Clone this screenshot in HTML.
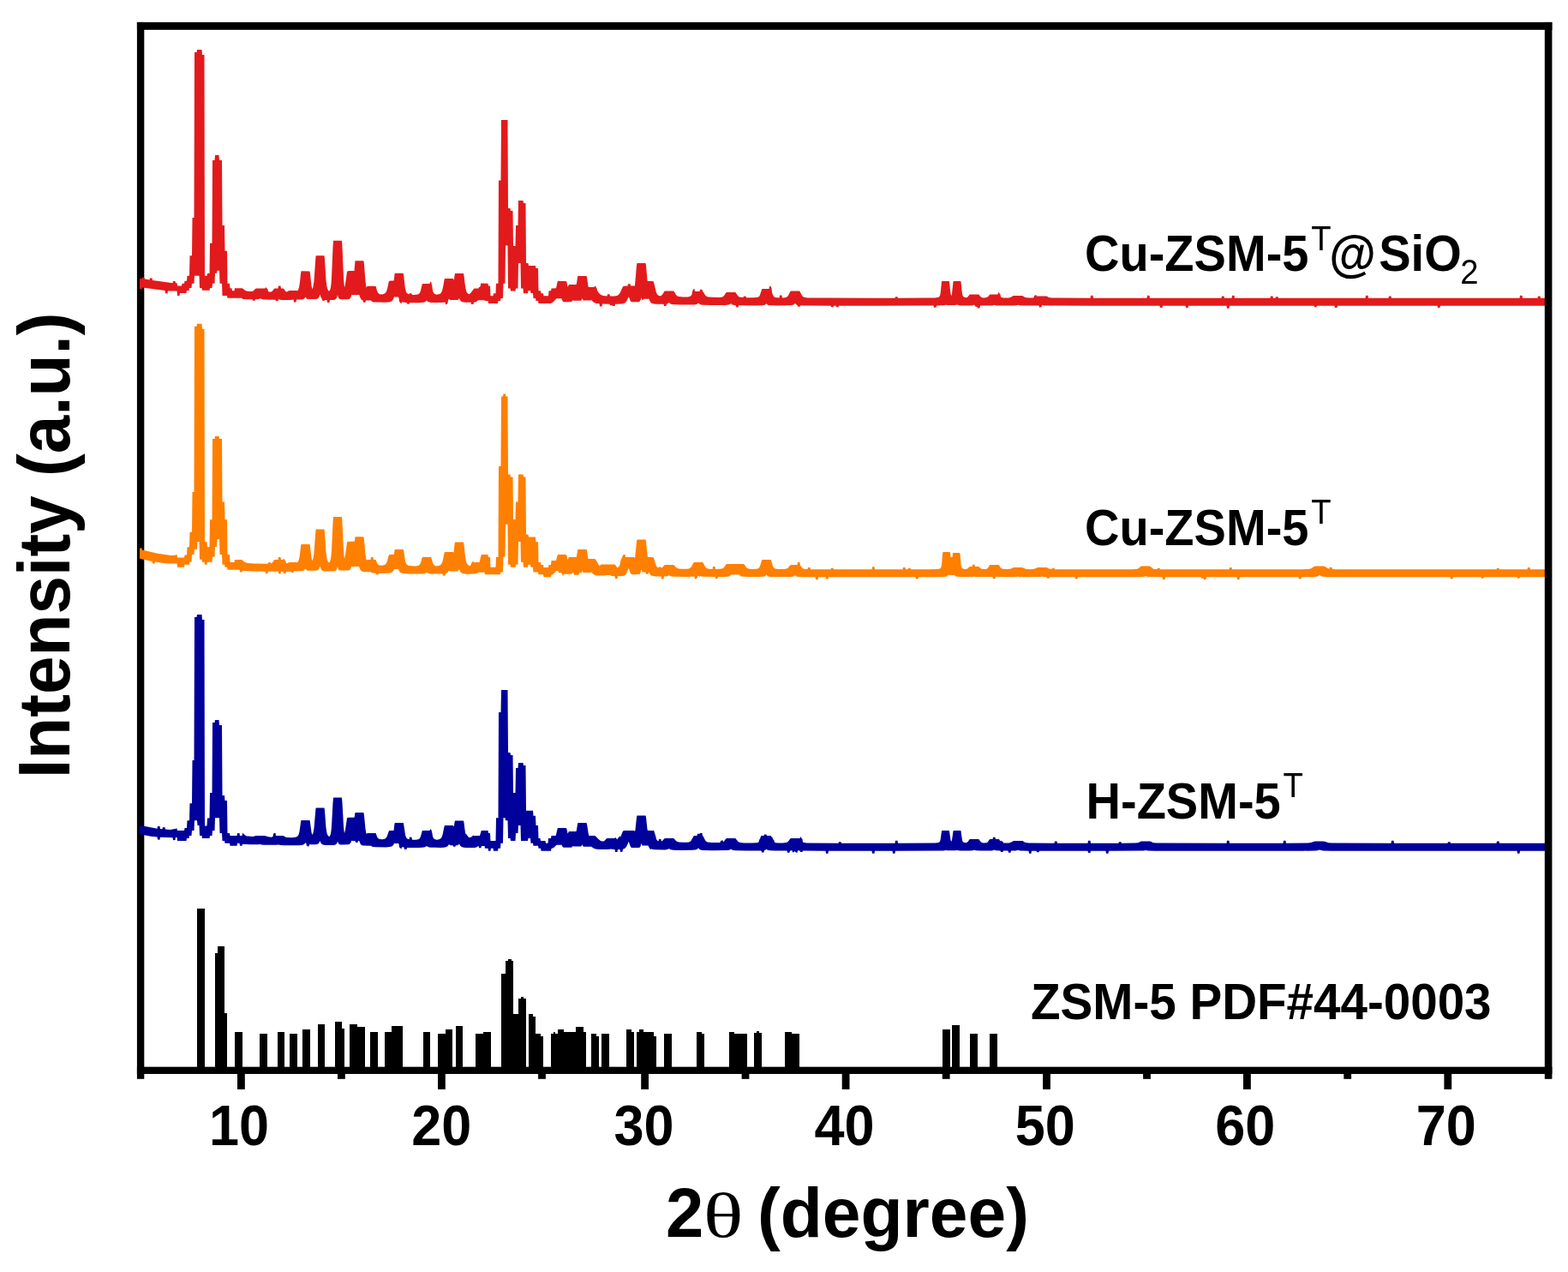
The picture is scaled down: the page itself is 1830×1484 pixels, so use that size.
<!DOCTYPE html>
<html lang="en"><head><meta charset="utf-8"><title>XRD patterns</title>
<style>
html,body{margin:0;padding:0;background:#fff;}
body{width:1830px;height:1484px;overflow:hidden;}
svg{display:block;}
text{font-family:"Liberation Sans","DejaVu Sans",sans-serif;fill:#000;}
.b{font-weight:bold;}
.tick{font-size:67px;font-weight:bold;text-anchor:middle;}
.lab{font-size:60px;font-weight:bold;}
.ttl{font-size:82px;font-weight:bold;}
.n{font-weight:normal;}
</style></head><body>
<svg width="1830" height="1484" viewBox="0 0 1830 1484">
<rect x="0" y="0" width="1830" height="1484" fill="#fff"/>

<g fill="#000"><rect x="159.90" y="25.90" width="8.40" height="1232.90"/><rect x="159.90" y="1244.65" width="1651.50" height="8.30"/></g>
<clipPath id="plotclip"><rect x="163" y="20" width="1644" height="1240"/></clipPath>
<g fill="#000" shape-rendering="crispEdges">
<rect x="230.0" y="1059.7" width="8.5" height="189.3"/>
<rect x="250.7" y="1112.0" width="5.8" height="137.0"/>
<rect x="253.5" y="1104.0" width="8.2" height="145.0"/>
<rect x="261.7" y="1182.0" width="3.3" height="67.0"/>
<rect x="274.0" y="1204.0" width="8.7" height="45.0"/>
<rect x="303.3" y="1206.0" width="8.2" height="43.0"/>
<rect x="324.0" y="1204.0" width="8.0" height="45.0"/>
<rect x="338.0" y="1206.0" width="8.5" height="43.0"/>
<rect x="353.0" y="1200.7" width="8.5" height="48.3"/>
<rect x="370.5" y="1195.0" width="8.5" height="54.0"/>
<rect x="391.0" y="1191.7" width="8.0" height="57.3"/>
<rect x="399.0" y="1200.0" width="3.3" height="49.0"/>
<rect x="408.3" y="1195.0" width="8.7" height="54.0"/>
<rect x="417.0" y="1198.0" width="9.0" height="51.0"/>
<rect x="432.0" y="1204.0" width="8.5" height="45.0"/>
<rect x="449.3" y="1204.0" width="7.7" height="45.0"/>
<rect x="457.0" y="1197.0" width="13.0" height="52.0"/>
<rect x="493.5" y="1204.0" width="8.5" height="45.0"/>
<rect x="511.0" y="1206.0" width="8.5" height="43.0"/>
<rect x="519.5" y="1200.7" width="8.8" height="48.3"/>
<rect x="532.0" y="1197.3" width="8.0" height="51.7"/>
<rect x="555.0" y="1206.0" width="8.5" height="43.0"/>
<rect x="563.5" y="1204.0" width="9.0" height="45.0"/>
<rect x="584.5" y="1136.0" width="5.6" height="113.0"/>
<rect x="590.1" y="1121.0" width="8.9" height="128.0"/>
<rect x="592.5" y="1119.0" width="4.0" height="130.0"/>
<rect x="599.0" y="1183.0" width="6.0" height="66.0"/>
<rect x="605.0" y="1165.2" width="8.6" height="83.8"/>
<rect x="607.5" y="1162.5" width="3.0" height="86.5"/>
<rect x="616.7" y="1183.0" width="5.6" height="66.0"/>
<rect x="622.3" y="1186.0" width="3.1" height="63.0"/>
<rect x="625.4" y="1206.0" width="5.8" height="43.0"/>
<rect x="631.2" y="1209.0" width="2.9" height="40.0"/>
<rect x="643.0" y="1206.0" width="8.4" height="43.0"/>
<rect x="645.5" y="1203.5" width="2.5" height="45.5"/>
<rect x="651.4" y="1200.5" width="6.2" height="48.5"/>
<rect x="657.6" y="1203.6" width="14.4" height="45.4"/>
<rect x="672.0" y="1197.8" width="9.0" height="51.2"/>
<rect x="681.0" y="1203.6" width="3.0" height="45.4"/>
<rect x="689.8" y="1206.0" width="6.2" height="43.0"/>
<rect x="696.0" y="1209.0" width="2.7" height="40.0"/>
<rect x="701.8" y="1206.0" width="8.7" height="43.0"/>
<rect x="730.9" y="1200.5" width="5.6" height="48.5"/>
<rect x="736.5" y="1203.6" width="3.1" height="45.4"/>
<rect x="742.7" y="1203.6" width="3.1" height="45.4"/>
<rect x="745.8" y="1200.5" width="5.2" height="48.5"/>
<rect x="751.0" y="1203.6" width="12.0" height="45.4"/>
<rect x="763.0" y="1209.0" width="3.0" height="40.0"/>
<rect x="774.9" y="1206.0" width="8.7" height="43.0"/>
<rect x="812.9" y="1203.6" width="5.6" height="45.4"/>
<rect x="818.5" y="1206.0" width="3.1" height="43.0"/>
<rect x="851.1" y="1203.6" width="5.9" height="45.4"/>
<rect x="857.0" y="1206.0" width="14.5" height="43.0"/>
<rect x="880.2" y="1205.0" width="8.9" height="44.0"/>
<rect x="883.0" y="1203.0" width="3.0" height="46.0"/>
<rect x="915.7" y="1204.0" width="8.7" height="45.0"/>
<rect x="924.4" y="1206.0" width="8.7" height="43.0"/>
<rect x="1100.0" y="1201.0" width="8.7" height="48.0"/>
<rect x="1111.4" y="1195.7" width="8.7" height="53.3"/>
<rect x="1132.1" y="1206.0" width="8.8" height="43.0"/>
<rect x="1155.4" y="1206.0" width="8.7" height="43.0"/>
</g>
<path clip-path="url(#plotclip)" d="M160.0,325.1 164.0,325.1 165.5,325.2 166.0,323.8 168.5,324.1 169.0,325.6 174.5,326.4 175.0,324.3 177.5,324.6 178.0,326.9 201.5,330.2 202.0,328.1 204.5,328.0 205.0,330.2 206.5,329.9 207.0,333.6 212.0,333.6 212.5,330.7 215.0,330.7 215.5,327.7 218.0,327.7 218.5,321.8 221.0,321.8 221.5,298.3 224.0,298.3 224.5,254.0 226.5,254.0 227.0,61.0 229.5,61.0 230.0,58.0 235.5,58.0 236.0,64.0 238.5,64.0 239.0,321.8 241.5,321.8 242.0,319.1 244.5,319.1 245.0,283.8 247.5,283.8 248.0,187.0 250.5,187.0 251.0,181.0 255.5,181.0 256.0,187.0 259.0,187.0 259.5,263.0 262.0,263.0 262.5,292.7 265.0,292.7 265.5,330.7 268.0,330.7 268.5,336.3 270.5,336.3 271.0,339.3 273.5,339.3 274.0,336.3 282.5,336.3 283.5,336.7 286.0,338.7 287.5,339.4 289.5,339.8 293.5,340.1 295.5,339.4 298.0,337.0 299.0,336.4 307.5,336.4 309.0,336.4 309.5,336.6 310.0,334.9 312.5,337.4 313.0,339.9 314.5,340.4 316.0,340.6 317.0,340.3 318.0,339.5 320.0,336.7 320.5,336.4 324.5,336.4 325.0,333.4 327.5,333.4 328.0,336.4 330.5,336.4 331.0,336.8 333.0,339.6 334.0,340.4 334.5,340.4 337.0,339.2 338.0,339.0 346.0,339.0 347.0,339.2 347.5,338.9 348.0,338.1 349.0,335.3 350.0,329.0 351.0,319.3 351.5,316.4 352.0,316.3 361.5,316.4 362.0,319.6 363.5,333.4 364.5,337.4 365.5,334.4 366.5,327.5 368.5,298.9 369.0,298.3 377.0,298.3 378.5,298.3 379.0,302.5 380.5,327.0 381.5,334.6 382.5,337.8 383.0,338.7 384.0,339.7 385.0,338.5 385.5,337.2 386.0,334.9 386.5,330.9 387.0,324.1 388.5,288.3 389.0,281.0 389.5,280.8 398.5,280.8 399.0,281.0 399.5,288.3 401.0,324.0 401.5,330.8 402.0,334.9 402.5,334.1 403.0,331.4 405.0,317.0 405.5,316.4 407.5,316.1 413.5,316.1 414.5,304.2 423.0,304.2 424.5,304.6 425.0,308.6 426.5,328.3 427.5,335.4 428.0,334.9 428.5,333.7 436.5,333.7 438.5,333.9 439.0,335.2 440.0,339.2 441.0,341.6 442.0,342.6 443.5,343.2 445.0,343.5 448.0,342.9 449.5,342.1 450.5,340.9 451.5,338.6 452.0,336.9 453.5,329.7 454.0,328.2 455.5,327.6 459.5,327.6 460.0,325.5 460.5,320.0 461.0,318.8 469.0,318.8 470.5,319.1 471.0,319.6 472.5,333.4 473.0,336.8 474.0,340.5 475.0,342.0 476.0,342.8 477.0,343.2 477.5,343.4 478.0,342.0 480.5,342.4 481.0,344.0 483.5,344.1 487.5,343.5 488.5,343.1 489.5,342.3 490.5,340.6 491.0,339.1 492.5,332.3 493.0,331.0 501.5,331.0 502.0,328.8 503.0,328.8 503.5,330.1 504.5,334.9 505.0,339.1 505.5,340.5 506.5,342.3 507.5,343.1 509.5,343.7 511.0,343.6 513.0,343.0 514.0,342.4 515.0,341.3 516.0,339.2 517.0,335.3 518.5,326.6 519.0,325.1 520.5,325.0 529.0,325.0 529.5,326.8 530.0,325.8 530.5,321.4 531.0,319.0 539.5,319.0 541.0,319.1 541.5,321.6 542.5,330.6 543.5,337.1 544.5,340.4 545.0,341.3 546.0,342.4 547.5,343.2 548.5,342.6 550.0,341.1 552.5,337.6 553.5,336.6 554.0,336.4 558.5,336.4 559.0,334.9 560.0,334.9 560.5,334.0 561.5,330.0 562.0,330.6 569.5,330.7 570.0,333.6 572.0,333.6 572.5,345.2 575.5,345.2 576.0,342.3 578.5,342.3 579.0,330.7 581.5,330.7 582.0,210.6 584.5,210.6 585.0,140.0 592.5,140.0 593.0,243.0 595.5,243.0 596.0,246.0 598.5,246.0 599.0,287.0 601.5,287.0 602.0,263.0 604.5,263.0 605.0,234.0 610.5,234.0 611.0,237.0 613.5,237.0 614.0,307.0 616.5,307.0 617.0,309.9 625.0,309.9 625.5,312.9 628.0,312.9 628.5,339.3 631.0,339.3 631.5,342.3 634.0,342.3 634.5,345.2 640.0,345.2 640.5,339.3 643.0,339.3 643.5,336.6 644.0,336.4 649.0,336.3 650.5,329.3 651.0,328.0 659.5,327.9 661.0,328.2 661.5,329.6 662.5,334.9 664.0,332.1 672.5,332.0 673.0,330.5 674.0,323.6 674.5,322.0 676.0,322.0 684.5,322.0 685.0,323.6 686.5,334.0 687.0,335.0 693.5,335.0 694.0,333.5 694.5,333.7 695.5,334.7 696.5,336.4 697.0,338.7 698.5,341.2 700.0,342.9 701.5,344.1 704.0,344.9 708.5,345.4 709.0,343.2 711.5,343.3 712.0,345.6 717.0,345.5 720.0,345.1 721.5,344.3 723.0,342.6 724.0,340.9 726.5,335.3 727.5,333.9 728.0,333.7 732.5,333.5 733.0,331.3 735.5,331.3 736.0,333.5 740.0,333.5 740.5,333.8 741.0,332.6 743.0,309.8 743.5,307.1 753.0,307.0 753.5,307.0 754.0,309.7 755.5,327.3 756.0,327.9 761.0,327.9 762.5,328.3 763.0,329.4 763.5,331.3 765.5,339.8 766.5,342.5 767.5,343.9 768.5,344.7 769.5,345.1 771.0,345.4 771.5,345.1 773.0,343.7 775.0,340.4 775.5,339.7 776.0,339.4 786.0,339.4 786.5,339.8 787.0,340.5 789.0,343.9 790.5,345.4 792.5,346.1 797.0,346.4 803.0,346.4 804.5,346.1 806.0,345.4 807.5,343.6 808.0,339.7 809.5,337.3 810.0,337.0 810.5,337.0 811.0,340.0 816.5,340.0 817.0,337.8 819.5,337.8 820.0,340.0 820.5,340.3 821.0,341.0 822.5,343.6 823.5,345.0 825.0,346.1 827.0,346.6 837.5,347.0 842.0,346.7 843.5,346.2 844.5,345.4 845.5,344.2 847.0,341.9 847.5,341.3 848.0,341.0 857.5,341.0 858.0,341.0 858.5,341.3 861.5,345.5 862.5,346.3 864.0,346.8 867.5,347.1 868.0,345.6 870.5,345.7 871.0,347.2 878.0,347.3 883.0,347.1 885.0,346.6 886.0,345.7 886.5,345.0 887.5,342.6 889.0,337.7 889.5,337.0 897.5,337.0 898.0,334.0 899.5,334.0 900.0,334.8 900.5,336.2 901.0,341.0 902.0,344.0 903.0,345.8 903.5,346.3 904.5,346.9 907.5,347.3 909.5,347.4 910.0,344.4 912.5,344.4 913.0,347.4 916.0,347.2 917.5,346.9 918.5,346.3 919.5,345.4 920.5,343.8 922.0,340.8 922.5,340.0 923.0,339.6 931.5,339.6 933.0,339.6 933.5,340.0 936.0,344.7 937.5,346.4 939.5,347.1 942.5,347.4 960.5,347.6 1044.5,347.7 1045.0,346.2 1047.5,346.2 1048.0,347.7 1080.5,347.6 1091.0,347.4 1094.0,347.1 1095.5,346.7 1096.5,345.8 1097.0,344.8 1097.5,342.7 1098.0,338.8 1099.0,328.6 1099.5,328.0 1107.5,328.0 1108.0,328.5 1109.0,338.8 1109.5,342.6 1110.0,344.7 1110.5,344.7 1111.0,342.6 1112.5,328.5 1113.0,328.0 1121.0,328.0 1121.5,328.6 1122.5,338.8 1123.0,342.6 1123.5,344.8 1124.0,345.8 1125.0,346.6 1127.5,347.2 1128.5,346.9 1129.5,346.2 1131.5,343.8 1132.0,343.5 1141.5,343.5 1142.0,343.5 1142.5,343.8 1144.5,346.2 1145.5,346.9 1147.5,347.4 1150.5,347.3 1151.5,347.1 1152.5,346.6 1153.5,345.7 1155.0,343.8 1155.5,343.5 1164.5,343.5 1165.0,341.3 1165.5,341.3 1166.0,341.6 1167.5,343.5 1168.0,346.2 1168.5,346.7 1169.5,347.1 1170.5,347.4 1174.5,347.5 1177.5,347.4 1179.0,347.1 1180.0,346.7 1182.5,345.1 1183.5,345.0 1193.0,345.0 1194.0,345.4 1196.5,346.9 1198.0,347.3 1202.0,347.6 1205.5,347.5 1206.5,347.3 1207.0,345.0 1209.5,343.9 1210.0,345.8 1211.0,345.5 1221.0,345.5 1222.0,345.8 1224.0,346.9 1225.5,347.3 1228.0,347.6 1233.5,347.6 1272.5,347.7 1273.0,344.7 1275.5,344.7 1276.0,347.7 1338.5,347.7 1339.0,344.7 1341.5,344.7 1342.0,347.7 1425.5,347.7 1426.0,345.5 1428.5,345.5 1429.0,347.7 1437.5,347.7 1438.0,344.7 1440.5,344.7 1441.0,347.7 1482.5,347.7 1483.0,345.5 1485.5,345.5 1486.0,347.7 1488.5,347.7 1489.0,346.2 1491.5,346.2 1492.0,347.7 1593.5,347.7 1594.0,344.7 1596.5,344.7 1597.0,347.7 1620.5,347.7 1621.0,345.5 1623.5,345.5 1624.0,347.7 1773.5,347.7 1774.0,344.7 1776.5,344.7 1777.0,347.7 1794.5,347.7 1795.0,345.5 1797.5,345.5 1798.0,347.7 1812.0,347.7 1812.0,356.7 1681.0,356.7 1680.5,358.9 1678.0,358.9 1677.5,356.7 1561.0,356.7 1560.5,358.9 1558.0,358.9 1557.5,356.7 1537.0,356.7 1536.5,358.2 1534.0,358.2 1533.5,356.7 1435.0,356.7 1434.5,359.7 1432.0,359.7 1431.5,356.7 1387.0,356.7 1386.5,358.9 1384.0,358.9 1383.5,356.7 1357.0,356.7 1356.5,358.9 1354.0,358.9 1353.5,356.7 1226.0,356.6 1219.0,356.5 1217.5,356.3 1216.0,355.9 1215.5,358.3 1213.0,358.7 1212.5,356.5 1192.5,356.5 1190.0,356.3 1188.0,355.7 1186.5,356.2 1184.0,356.5 1166.5,356.5 1162.5,356.4 1161.5,356.1 1160.5,355.7 1159.0,356.3 1157.0,356.5 1144.0,356.5 1143.5,359.5 1141.0,359.5 1140.5,357.9 1138.0,357.6 1137.5,355.9 1137.0,355.6 1135.5,356.2 1132.0,356.4 1121.0,356.4 1118.5,356.1 1117.0,355.6 1114.5,356.0 1106.0,356.0 1103.5,355.7 1102.5,356.0 1100.5,356.3 1093.0,356.6 1092.5,358.8 1090.0,358.8 1089.5,356.6 979.0,356.7 978.5,358.2 976.0,358.2 975.5,356.7 973.0,356.7 972.5,358.2 970.0,358.2 969.5,356.7 943.5,356.6 934.0,356.4 933.5,357.9 931.0,357.5 930.5,355.9 929.0,354.9 928.0,353.7 927.0,354.9 926.0,355.6 924.5,356.1 922.5,356.3 906.5,356.5 899.0,356.3 897.0,356.0 896.0,355.7 895.0,354.8 894.5,354.1 894.0,354.7 893.0,355.6 891.5,356.0 889.5,356.2 882.0,356.4 862.0,356.2 861.5,358.4 859.0,358.3 858.5,356.1 856.5,355.9 855.0,355.5 854.0,354.9 853.0,354.0 852.0,354.9 850.5,355.6 846.5,355.9 830.0,356.0 820.0,355.7 818.0,355.4 817.0,355.1 816.0,354.5 815.0,353.4 813.5,354.7 812.5,355.1 811.0,355.4 806.5,355.6 793.5,355.6 787.0,355.3 784.0,355.0 782.5,354.4 781.0,352.9 779.5,354.1 778.0,354.7 777.5,356.9 775.0,357.0 774.5,354.8 765.5,354.7 763.0,354.5 761.0,353.9 760.0,353.4 759.0,352.3 758.0,350.3 757.5,348.8 751.0,348.8 750.5,350.3 750.0,350.3 749.5,350.1 748.5,347.0 748.0,349.7 747.5,350.0 747.0,351.1 746.0,352.2 745.5,352.3 737.0,352.3 736.0,351.4 735.5,350.6 734.0,346.7 733.5,346.5 732.0,349.9 731.0,351.6 730.0,352.9 729.0,353.6 727.5,354.2 726.0,354.5 718.0,354.7 717.5,356.9 715.0,356.9 714.5,356.2 712.0,356.2 711.5,354.7 703.0,354.5 702.5,357.5 700.0,357.4 699.5,354.3 696.0,353.9 694.0,353.3 692.0,351.9 690.5,350.2 690.0,350.0 689.5,350.3 689.0,350.4 681.0,350.4 680.5,350.1 679.5,348.1 679.0,349.6 678.5,350.5 678.0,350.8 670.0,350.8 669.5,350.7 669.0,350.2 668.5,350.3 668.0,351.1 667.0,352.0 666.0,352.2 658.0,352.2 657.0,351.7 656.5,351.0 655.5,348.4 655.0,348.3 649.5,348.3 649.0,348.5 647.5,350.6 646.0,352.1 645.0,352.8 643.5,353.4 643.0,353.9 628.5,353.9 628.0,350.9 625.5,350.9 625.0,347.9 622.5,347.9 622.0,342.0 619.5,342.0 619.0,339.0 616.5,339.0 616.0,342.3 611.0,342.3 610.5,336.6 608.0,336.6 607.5,307.0 605.0,307.0 604.5,336.6 602.0,336.6 601.5,339.6 596.0,339.6 595.5,336.6 593.0,336.6 592.5,286.5 590.0,286.5 589.5,330.7 587.5,330.7 587.0,347.9 584.5,347.9 584.0,350.9 581.5,350.9 581.0,353.9 570.0,353.9 569.5,350.9 566.0,350.9 565.5,350.2 558.0,350.2 556.5,351.6 555.5,352.2 553.0,352.8 552.5,355.0 550.0,355.0 549.5,352.8 542.5,352.8 540.5,352.5 539.0,352.0 538.0,351.4 537.0,350.3 536.0,348.0 535.0,349.4 534.0,350.0 525.5,350.0 524.5,349.3 524.0,348.4 523.0,350.3 522.5,353.9 521.5,354.7 520.0,355.4 519.5,352.5 517.5,352.8 514.5,353.0 503.0,352.9 500.0,352.3 499.0,351.8 498.0,350.6 497.5,351.3 496.5,352.1 494.5,352.8 489.5,353.2 478.0,353.2 477.5,354.7 475.0,354.6 474.5,353.1 471.0,352.7 469.0,352.2 468.5,354.2 467.0,353.2 466.0,351.7 465.5,348.0 465.0,346.5 460.0,346.5 459.0,348.9 458.0,350.6 456.5,351.7 454.0,352.4 449.5,352.7 438.0,352.6 436.0,352.4 434.5,351.9 433.5,351.2 433.0,350.6 427.0,350.6 426.5,352.8 424.0,352.7 423.5,350.5 422.0,349.7 421.0,348.5 420.0,346.3 419.5,344.4 419.0,344.0 411.0,344.0 410.5,343.7 409.5,346.4 408.5,348.1 407.5,348.9 406.0,349.2 398.0,349.2 396.5,348.9 395.5,348.1 395.0,347.4 394.5,346.1 394.0,343.9 393.5,346.2 393.0,347.5 392.0,348.8 391.0,349.4 389.5,349.9 385.0,350.0 384.5,353.0 382.0,353.0 381.5,350.0 379.0,349.9 378.5,351.3 377.0,350.8 376.0,350.2 375.5,348.3 374.5,346.8 373.5,343.6 373.0,345.2 372.0,347.2 371.0,348.2 370.0,348.7 368.5,349.1 359.5,349.0 358.5,348.7 357.5,348.0 356.5,346.4 355.0,348.4 353.5,349.2 352.0,349.5 346.0,349.5 345.5,352.5 343.0,352.5 342.5,349.5 339.0,350.0 329.5,350.0 327.0,349.8 325.5,349.1 325.0,349.3 324.5,351.0 322.0,351.3 321.5,349.8 308.0,349.6 305.5,349.1 304.0,348.2 301.5,349.1 298.0,349.2 297.5,350.7 295.0,350.7 294.5,349.2 288.5,349.2 283.0,348.9 282.5,347.7 265.5,347.7 265.0,345.0 259.5,345.0 259.0,330.7 256.5,330.7 256.0,315.8 253.5,315.8 253.0,318.8 251.0,318.8 250.5,330.7 248.0,330.7 247.5,336.1 245.0,336.1 244.5,338.8 236.0,338.8 235.5,336.1 233.0,336.1 232.5,321.8 227.0,321.8 226.5,330.7 224.0,330.7 223.5,336.1 221.0,336.1 220.5,339.0 218.0,339.0 217.5,342.0 210.0,342.0 209.5,345.0 207.0,345.0 206.5,339.5 196.0,339.5 195.5,342.4 193.0,342.2 192.5,339.1 166.0,335.4 165.5,337.5 163.0,337.1 162.5,334.9 160.0,334.5Z" fill="#E31A1C"/>
<path clip-path="url(#plotclip)" d="M160.0,641.6 162.5,641.6 163.0,639.4 165.5,639.5 166.0,641.8 168.0,642.0 184.0,645.7 197.5,647.8 201.0,648.1 204.0,647.7 206.5,647.1 207.0,650.4 215.0,650.4 215.5,647.4 218.0,647.4 218.5,638.2 221.0,638.2 221.5,620.7 224.0,620.7 224.5,574.0 226.5,574.0 227.0,380.7 229.5,380.7 230.0,377.7 235.5,377.7 236.0,383.7 238.5,383.7 239.0,632.3 241.5,632.3 242.0,638.2 244.5,638.2 245.0,606.2 247.5,606.2 248.0,512.0 250.5,512.0 251.0,509.0 255.5,509.0 256.0,512.0 259.0,512.0 259.5,585.6 262.0,585.6 262.5,606.2 265.0,606.2 265.5,647.1 268.0,647.1 268.5,656.0 273.5,656.0 274.0,653.1 282.5,653.1 283.0,654.1 284.0,654.5 286.0,656.0 287.5,656.6 289.0,656.9 297.0,657.4 312.5,657.8 313.0,656.3 315.5,656.1 316.0,657.5 317.0,657.1 318.0,656.3 320.0,653.3 320.5,653.0 324.5,653.0 325.0,650.0 327.5,650.0 328.0,653.0 330.5,653.0 331.0,651.2 332.5,653.5 333.5,654.7 334.0,657.2 334.5,657.3 337.0,656.2 338.0,656.0 346.0,656.0 347.0,656.2 348.0,655.1 349.0,652.4 350.0,646.7 351.0,637.7 351.5,635.1 352.0,635.0 361.5,635.1 362.0,638.0 363.5,650.7 364.0,652.9 364.5,654.2 365.5,651.4 366.5,645.0 368.5,618.2 369.0,617.6 377.0,617.6 378.5,617.6 379.0,621.5 380.5,644.5 381.5,651.6 382.5,654.6 383.0,655.4 384.0,656.4 385.0,655.3 385.5,654.1 386.0,652.0 386.5,648.3 387.0,642.2 388.5,609.8 389.0,603.2 389.5,603.0 398.5,603.0 399.0,603.2 399.5,609.7 401.0,642.1 401.5,648.2 402.0,651.9 403.0,647.5 405.0,632.7 405.5,632.1 407.5,631.8 413.5,631.8 414.0,630.3 414.5,626.3 423.0,626.3 424.5,626.7 425.0,630.1 426.5,646.8 427.5,652.8 428.0,653.7 428.5,652.9 432.5,652.9 433.0,649.9 435.5,649.9 436.0,652.9 438.5,653.1 440.5,657.7 441.5,658.8 443.0,659.4 445.0,659.7 448.0,659.3 449.0,658.9 450.0,658.2 451.0,656.9 452.0,654.4 453.5,648.5 454.0,647.3 455.5,646.9 459.5,646.9 460.0,646.0 460.5,641.7 461.0,640.9 469.0,640.9 470.5,641.1 471.0,641.5 473.0,654.7 474.0,657.6 475.0,658.8 476.0,659.4 478.5,660.1 483.0,660.5 485.5,660.4 488.0,660.0 489.5,659.1 490.5,657.7 491.5,654.9 492.5,651.1 493.0,650.0 502.5,650.0 503.0,650.0 503.5,651.1 505.0,656.6 506.0,658.6 507.0,659.6 508.0,660.0 509.5,660.4 510.5,660.3 512.0,660.0 513.5,659.5 514.5,658.8 515.5,657.5 516.5,654.9 518.5,645.4 519.0,644.1 520.5,644.0 529.0,644.0 529.5,645.2 530.5,635.2 531.0,632.4 539.5,632.4 541.0,632.5 541.5,635.3 542.5,645.5 543.5,652.9 544.5,656.6 545.5,658.3 546.5,659.3 548.0,660.0 548.5,660.0 549.5,659.4 550.0,656.9 552.5,654.6 553.0,656.4 554.0,656.0 559.5,656.0 561.5,648.0 562.0,647.0 569.5,647.1 570.0,650.1 572.0,650.1 572.5,661.7 578.5,661.7 579.0,650.1 581.5,650.1 582.0,544.0 584.5,544.0 585.0,462.6 587.0,462.6 587.5,459.6 590.0,459.6 590.5,462.6 592.5,462.6 593.0,553.6 595.5,553.6 596.0,556.6 598.5,556.6 599.0,605.9 601.5,605.9 602.0,585.6 604.5,585.6 605.0,553.6 610.5,553.6 611.0,556.6 613.5,556.6 614.0,623.4 616.5,623.4 617.0,626.4 625.0,626.4 625.5,632.3 628.0,632.3 628.5,656.0 631.0,656.0 631.5,659.0 634.0,659.0 634.5,662.0 640.0,662.0 640.5,659.0 643.0,659.0 643.5,654.2 644.0,654.0 649.0,654.0 650.5,648.2 651.0,647.0 659.5,646.9 661.0,647.2 661.5,648.5 662.5,653.3 663.5,650.8 664.0,650.1 672.5,650.0 673.0,649.0 674.0,642.5 674.5,641.0 684.0,641.0 684.5,641.0 685.0,642.5 686.5,652.0 694.0,652.0 694.5,652.2 695.5,653.3 698.5,658.5 699.5,659.9 700.0,660.2 701.0,658.7 701.5,658.6 717.5,658.6 718.0,658.9 720.0,661.7 720.5,662.2 721.0,662.2 722.5,660.8 723.5,659.1 724.0,655.1 726.5,648.9 727.5,647.3 728.0,647.1 729.5,647.0 730.0,650.0 740.0,649.9 740.5,650.2 741.0,651.3 743.0,631.9 743.5,629.5 753.0,629.4 753.5,629.4 754.0,631.8 755.5,647.3 756.0,649.9 761.0,649.9 762.5,650.3 763.0,651.1 763.5,652.5 765.5,658.9 766.5,660.9 767.5,662.0 768.5,662.6 769.0,661.3 770.5,661.6 771.5,661.5 772.0,662.8 773.5,661.5 775.0,659.7 776.0,659.0 786.0,659.0 787.0,659.7 789.0,662.1 790.5,663.1 792.5,663.6 795.5,663.8 802.0,663.7 804.0,663.4 805.0,663.0 806.0,662.3 807.0,661.1 809.5,656.4 810.0,656.0 810.5,656.0 820.0,656.0 820.5,656.4 821.0,657.2 823.0,661.1 824.0,662.4 825.5,663.3 827.5,663.7 831.5,663.9 832.0,660.9 834.5,661.0 835.0,664.0 840.0,663.8 842.5,663.5 843.5,663.1 844.5,662.4 845.5,661.2 847.0,658.9 848.0,658.0 866.0,658.0 868.0,658.0 868.5,658.3 871.0,661.9 872.0,662.8 873.0,663.3 874.5,663.7 877.0,663.9 882.5,663.8 884.5,663.4 885.5,662.8 886.0,662.3 887.0,660.4 889.0,653.8 889.5,653.0 898.0,653.0 899.5,653.0 900.0,653.8 902.0,660.4 902.5,661.5 903.5,662.8 905.0,663.6 908.5,664.0 914.5,664.0 918.0,663.6 919.5,662.8 922.0,659.8 923.0,659.0 930.5,659.0 931.0,656.0 931.5,656.0 933.0,656.0 933.5,656.2 934.0,659.8 936.5,662.8 937.5,663.4 938.5,663.7 941.5,664.1 942.5,664.1 943.0,661.9 945.5,662.0 946.0,664.2 969.5,664.3 970.0,662.8 972.5,662.8 973.0,664.3 1017.5,664.3 1018.0,661.3 1020.5,661.3 1021.0,664.3 1053.5,664.3 1054.0,662.1 1056.5,662.1 1057.0,664.3 1059.5,664.3 1060.0,662.8 1062.5,662.8 1063.0,664.3 1085.5,664.2 1093.5,664.0 1095.5,663.8 1097.0,663.4 1098.0,662.6 1098.5,661.5 1099.0,659.1 1100.0,647.0 1100.5,644.0 1108.5,644.0 1109.0,645.0 1109.5,650.0 1111.5,650.0 1112.0,645.0 1120.0,645.0 1120.5,645.8 1121.5,658.3 1122.0,661.2 1122.5,662.4 1123.5,663.3 1125.0,663.7 1127.0,664.0 1129.0,663.4 1131.5,661.2 1132.0,661.0 1134.5,661.0 1135.0,658.8 1137.5,658.8 1138.0,661.0 1142.0,661.0 1142.5,661.2 1145.0,663.4 1146.0,663.8 1148.0,664.1 1150.5,663.9 1152.0,663.4 1153.0,662.5 1155.0,659.4 1155.5,659.0 1164.0,659.0 1165.5,659.0 1166.0,659.4 1168.0,662.5 1169.5,663.6 1171.5,664.0 1175.0,664.1 1179.0,663.8 1183.0,662.0 1193.0,662.0 1197.0,663.8 1199.0,664.1 1202.0,664.2 1205.0,664.1 1207.0,663.8 1211.0,662.0 1219.5,662.0 1221.5,662.1 1224.5,663.6 1227.0,664.1 1227.5,664.1 1228.0,662.7 1230.5,662.7 1231.0,664.2 1322.0,664.2 1325.5,664.0 1327.5,663.7 1329.0,662.9 1331.0,661.0 1332.0,660.5 1341.5,660.5 1342.5,660.7 1345.0,662.9 1346.0,663.5 1347.5,663.9 1350.5,664.1 1351.0,662.7 1353.5,662.7 1354.0,664.2 1434.5,664.3 1435.0,662.1 1437.5,662.1 1438.0,664.3 1519.0,664.2 1525.5,664.1 1528.5,663.7 1530.5,663.0 1534.0,660.8 1535.0,660.5 1544.5,660.5 1546.0,660.8 1549.0,662.8 1551.0,663.6 1551.5,663.7 1552.0,661.6 1554.5,661.9 1555.0,664.1 1559.0,664.2 1746.5,664.3 1747.0,662.8 1749.5,662.8 1750.0,664.3 1782.5,664.3 1783.0,662.1 1785.5,662.1 1786.0,664.3 1812.0,664.3 1812.0,673.3 1774.0,673.3 1773.5,674.8 1772.0,674.8 1771.0,674.8 1770.5,673.3 1732.0,673.3 1731.5,674.8 1729.0,674.8 1728.5,673.3 1696.0,673.3 1695.5,675.5 1693.0,675.5 1692.5,673.3 1551.0,673.2 1544.0,672.8 1542.0,672.3 1540.0,671.1 1537.5,672.4 1535.0,673.0 1530.0,673.2 1519.0,673.3 1518.5,675.5 1516.0,675.5 1515.5,673.3 1447.0,673.3 1446.5,676.3 1444.0,676.3 1443.5,673.3 1408.0,673.3 1407.5,676.3 1405.0,676.3 1404.5,674.8 1402.0,674.8 1401.5,673.3 1360.0,673.3 1359.5,676.3 1357.0,676.3 1356.5,673.3 1341.0,673.1 1338.5,672.7 1337.0,671.9 1336.0,672.5 1334.5,672.9 1329.5,673.2 1258.0,673.3 1257.5,675.5 1255.0,675.5 1254.5,673.3 1225.0,673.2 1224.5,674.7 1223.0,674.7 1222.0,674.7 1221.5,673.2 1218.0,673.0 1216.0,672.4 1214.5,672.9 1212.5,673.1 1198.0,673.2 1191.0,673.1 1189.5,672.9 1188.0,672.4 1186.0,673.0 1182.0,673.2 1167.0,673.1 1162.0,672.8 1161.5,675.6 1160.5,675.0 1159.0,675.8 1158.5,672.9 1154.0,673.1 1141.5,673.1 1138.5,672.9 1137.0,672.4 1135.5,672.9 1133.5,673.0 1120.0,673.0 1117.5,672.8 1116.0,672.5 1115.0,672.0 1114.0,671.0 1106.5,670.8 1106.0,671.6 1105.0,672.4 1103.5,672.8 1101.5,673.0 1093.5,673.2 1072.0,673.3 1071.5,675.5 1069.0,675.5 1068.5,673.3 967.0,673.3 966.5,675.5 964.0,675.5 963.5,673.3 955.0,673.3 954.5,676.3 952.0,676.3 951.5,673.3 938.0,673.2 932.0,673.0 929.5,672.4 928.0,671.3 927.0,672.1 926.0,672.6 923.5,673.0 903.0,673.1 899.0,672.9 897.0,672.6 895.5,671.8 894.5,670.5 894.0,671.3 893.0,672.2 892.0,672.5 890.5,672.8 885.5,673.0 873.0,673.0 868.0,672.8 865.5,672.5 864.0,671.8 862.5,670.5 853.5,670.5 851.5,672.1 849.5,672.7 845.5,672.9 838.0,673.0 837.5,675.2 835.0,675.2 834.5,673.0 821.5,672.8 818.5,672.5 817.0,672.1 816.5,673.3 815.0,671.6 814.0,672.8 813.5,674.7 812.5,675.2 811.0,675.6 810.5,672.6 803.0,672.9 786.0,672.7 783.0,672.3 782.0,671.9 781.0,671.1 779.5,672.0 778.5,672.3 775.0,672.4 774.5,675.4 772.0,675.4 771.5,672.4 765.0,672.4 761.0,671.8 760.0,671.4 759.0,670.6 757.5,667.9 757.0,667.5 756.5,669.7 754.0,669.7 753.5,667.5 750.0,667.5 749.5,667.2 748.5,664.3 747.5,668.2 747.0,669.2 746.0,670.1 737.5,670.2 737.0,670.0 736.0,669.0 735.5,668.1 734.0,663.6 733.5,663.3 731.5,668.1 730.5,669.8 729.5,670.9 728.5,671.5 727.0,672.0 721.0,672.2 720.5,675.2 718.0,675.2 717.5,672.2 714.0,672.0 712.0,671.0 707.0,671.0 706.0,671.4 705.0,671.5 696.0,671.4 694.5,671.0 693.0,670.3 691.5,668.9 690.5,667.5 690.0,667.5 689.5,667.9 689.0,668.0 681.0,668.0 680.5,667.8 679.5,666.1 679.0,667.4 678.5,668.2 678.0,668.6 676.0,668.6 675.5,670.8 670.0,670.8 669.5,668.4 669.0,667.9 668.5,668.0 667.5,669.3 666.5,669.8 658.0,669.8 657.5,671.9 656.5,671.0 655.5,668.6 655.0,668.2 652.0,668.2 651.5,666.0 649.0,666.0 647.5,668.0 646.0,669.5 645.0,670.2 643.5,670.8 643.0,673.3 634.5,673.3 634.0,670.3 628.5,670.3 628.0,667.4 622.5,667.4 622.0,661.7 619.5,661.7 619.0,658.7 616.5,658.7 616.0,661.7 611.0,661.7 610.5,655.8 608.0,655.8 607.5,632.0 605.0,632.0 604.5,658.7 602.0,658.7 601.5,661.7 596.0,661.7 595.5,658.7 593.0,658.7 592.5,611.8 590.0,611.8 589.5,649.6 587.5,649.6 587.0,667.4 584.5,667.4 584.0,670.3 566.0,670.3 565.5,667.7 558.5,667.7 556.5,669.0 554.0,669.6 544.5,669.7 542.5,669.5 540.0,669.0 538.0,667.9 537.0,666.6 536.0,664.1 534.5,666.3 533.5,666.6 525.5,666.6 524.5,666.1 524.0,665.5 523.5,666.5 522.5,667.8 521.5,668.5 520.0,669.0 519.5,671.4 517.0,671.7 516.5,669.5 505.5,669.6 502.5,669.5 499.5,668.8 498.5,668.2 498.0,667.6 497.0,668.5 496.0,669.0 492.5,669.5 478.0,669.6 470.5,669.1 468.5,668.6 467.0,667.8 466.0,666.6 465.0,664.1 460.0,664.1 459.0,665.9 458.0,667.2 457.0,667.9 455.5,668.4 451.5,668.8 442.0,668.9 441.5,670.4 439.0,670.3 438.5,668.8 435.0,668.4 434.0,668.1 432.5,667.2 424.5,667.2 422.5,666.6 421.5,665.9 420.5,664.6 419.0,660.9 411.0,660.9 410.5,660.3 409.5,662.7 408.5,664.4 407.5,665.2 406.0,665.6 397.5,665.6 396.5,665.4 395.5,664.7 395.0,664.1 394.5,662.9 394.0,661.0 393.5,663.1 393.0,664.3 392.0,665.5 390.5,666.2 388.5,666.5 380.0,666.5 378.5,666.4 376.5,665.7 375.0,664.4 374.0,662.4 373.5,660.6 373.0,662.1 372.0,664.0 371.0,664.9 369.5,665.6 368.5,665.8 359.5,665.7 358.5,665.5 357.5,664.8 356.5,663.4 355.0,665.2 353.5,666.0 351.5,666.3 343.0,666.3 342.5,667.8 340.5,668.2 340.0,668.3 339.5,666.8 334.0,666.9 333.5,669.1 331.0,669.1 330.5,666.9 328.0,666.8 327.5,669.7 326.5,669.5 325.5,668.9 325.0,669.1 324.5,666.4 321.5,666.8 313.0,666.8 312.5,669.0 310.0,669.0 309.5,666.8 294.0,666.6 283.0,666.1 282.5,667.6 280.0,667.6 279.5,664.7 265.5,664.7 265.0,661.7 262.5,661.7 262.0,658.7 259.5,658.7 259.0,646.9 256.5,646.9 256.0,629.1 253.5,629.1 253.0,638.0 251.0,638.0 250.5,649.8 248.0,649.8 247.5,655.8 242.0,655.8 241.5,658.7 239.0,658.7 238.5,655.8 236.0,655.8 235.5,652.8 233.0,652.8 232.5,632.0 230.5,632.0 230.0,640.9 227.0,640.9 226.5,646.9 224.0,646.9 223.5,655.8 221.5,655.8 221.0,658.7 215.5,658.7 215.0,661.7 207.0,661.7 206.5,657.4 196.0,657.5 189.5,656.8 181.0,655.5 180.5,657.7 178.0,657.2 177.5,655.0 160.0,651.0Z" fill="#FF7F00"/>
<path clip-path="url(#plotclip)" d="M160.0,963.6 168.0,963.8 183.5,966.7 184.0,963.8 186.5,964.0 187.0,967.1 189.5,967.3 190.0,965.1 192.5,965.3 193.0,967.6 198.5,967.9 203.0,967.3 206.5,966.5 207.0,969.0 215.0,969.0 215.5,966.1 218.0,966.1 218.5,957.2 221.0,957.2 221.5,937.2 224.0,937.2 224.5,887.0 226.5,887.0 227.0,720.0 229.5,720.0 230.0,717.0 235.5,717.0 236.0,723.0 238.5,723.0 239.0,963.4 241.5,963.4 242.0,954.5 244.5,954.5 245.0,925.1 247.5,925.1 248.0,843.0 250.5,843.0 251.0,840.0 255.5,840.0 256.0,846.0 259.0,846.0 259.5,928.0 262.0,928.0 262.5,934.0 265.0,934.0 265.5,972.0 268.0,972.0 268.5,975.0 276.5,975.0 277.0,972.0 279.5,972.0 280.0,975.0 282.5,975.0 283.0,972.1 284.0,972.6 286.5,974.7 288.0,975.4 289.5,975.6 295.0,976.0 299.0,975.0 309.0,975.0 313.0,976.3 316.5,976.7 317.5,976.5 318.5,976.0 319.0,972.7 320.0,972.1 321.5,972.0 322.0,975.0 330.5,975.0 333.5,976.7 335.5,977.0 340.0,977.2 344.5,976.8 346.0,976.4 347.0,975.8 348.0,974.8 348.5,973.8 349.5,970.3 351.0,959.4 351.5,957.1 353.0,957.0 361.5,957.1 362.0,959.7 363.5,970.9 364.5,974.1 365.5,971.7 366.5,966.1 368.5,942.9 369.0,942.4 377.0,942.4 378.5,942.4 379.0,945.8 380.5,965.7 381.5,971.9 382.5,974.5 384.0,976.0 384.5,975.8 385.0,975.2 385.5,974.2 386.0,972.4 386.5,969.3 387.0,964.0 388.5,936.4 389.0,930.8 389.5,930.6 398.5,930.6 399.0,930.8 399.5,936.4 401.0,964.0 401.5,969.2 402.0,972.3 403.0,968.1 405.0,954.6 405.5,954.1 407.5,953.8 413.5,953.8 414.0,951.6 414.5,947.9 423.0,947.9 424.5,948.3 425.0,951.4 426.5,967.1 427.5,972.7 428.0,972.8 428.5,971.9 436.5,971.9 438.5,972.1 439.0,973.1 440.0,976.0 441.0,977.8 442.0,978.6 443.5,979.0 446.0,979.3 448.0,978.9 449.5,978.4 450.5,977.6 451.5,976.2 454.0,969.3 455.5,968.9 459.5,968.9 460.5,960.8 461.0,959.9 469.0,959.9 470.5,960.1 471.0,960.4 473.0,974.1 474.0,977.0 475.0,978.2 476.0,978.8 477.5,979.3 478.0,976.4 480.5,976.7 481.0,979.8 485.0,979.8 487.0,979.6 488.5,979.1 489.5,978.4 490.5,977.0 491.5,974.1 492.5,970.1 493.0,969.0 501.5,969.0 502.0,967.5 502.5,967.5 503.0,967.5 503.5,968.6 504.5,972.6 505.0,975.8 506.0,977.9 507.0,978.8 508.5,979.5 510.0,979.7 511.5,979.5 513.0,979.0 514.0,978.5 515.0,977.5 515.5,976.7 516.5,974.1 518.5,964.4 519.0,963.1 529.0,963.0 529.5,964.6 530.0,963.5 530.5,959.6 531.0,957.4 539.5,957.4 541.0,957.5 541.5,959.8 542.5,967.9 543.5,973.8 544.0,972.5 545.0,974.6 546.5,975.9 547.0,976.9 548.0,977.2 549.5,976.4 550.0,976.7 552.5,974.3 553.0,975.4 554.0,975.0 559.5,975.0 560.0,974.9 561.5,969.8 562.0,969.0 569.5,969.0 570.0,972.0 572.0,972.0 572.5,980.9 578.5,980.9 579.0,954.2 581.5,954.2 582.0,831.0 584.5,831.0 585.0,805.0 592.5,805.0 593.0,878.0 595.5,878.0 596.0,881.0 598.5,881.0 599.0,925.1 601.5,925.1 602.0,896.0 604.5,896.0 605.0,890.0 610.5,890.0 611.0,893.0 613.5,893.0 614.0,945.8 622.0,945.8 622.5,951.8 625.0,951.8 625.5,963.1 628.0,963.1 628.5,977.9 630.5,977.9 631.0,980.9 636.5,980.9 637.0,983.8 639.5,983.8 640.0,977.9 643.0,977.9 643.5,975.1 644.0,975.0 648.5,975.0 649.0,973.8 650.5,967.3 651.0,966.0 659.5,966.0 661.0,966.2 661.5,967.5 662.5,972.2 663.0,971.9 663.5,970.8 664.0,970.1 672.5,970.0 673.0,968.0 674.0,961.5 674.5,960.0 675.0,960.0 684.5,960.0 685.0,961.5 687.0,974.1 687.5,975.0 694.0,975.0 694.5,975.1 695.5,975.9 699.0,979.6 701.0,980.9 703.0,981.5 704.5,981.6 706.0,980.6 708.0,978.2 708.5,978.0 717.5,978.0 718.0,976.7 720.5,979.6 721.0,978.0 722.5,976.5 723.5,974.9 724.0,976.9 726.5,970.8 727.5,969.3 728.0,969.1 732.0,968.9 740.0,968.9 740.5,969.3 741.0,970.3 741.5,967.8 743.0,953.6 743.5,951.5 745.0,951.4 753.5,951.4 754.0,953.6 755.5,967.6 756.0,968.9 761.0,968.9 762.5,969.3 763.0,968.6 765.5,976.4 766.0,979.0 767.0,980.5 768.0,981.3 768.5,981.5 769.0,978.7 771.0,979.1 771.5,978.9 772.0,981.7 773.5,980.5 775.0,978.7 776.0,978.0 786.0,978.0 787.0,978.7 789.0,981.1 790.5,982.1 792.5,982.6 796.0,982.8 802.0,982.7 804.0,982.5 805.0,982.1 806.0,981.4 807.0,980.1 809.5,975.4 810.0,975.0 813.5,975.0 814.0,972.8 816.5,972.8 817.0,972.0 818.5,972.0 819.5,972.0 820.0,975.0 820.5,975.4 821.0,976.2 823.0,980.2 824.0,981.5 825.0,982.2 826.0,982.6 830.5,983.0 840.5,983.1 841.0,980.9 843.5,980.3 844.0,982.3 845.0,981.4 847.0,978.8 848.0,978.0 856.5,978.0 858.0,978.0 858.5,978.3 861.5,982.0 862.5,982.6 864.0,983.1 868.0,983.4 877.0,983.5 883.5,983.2 885.5,982.6 886.0,980.0 887.0,978.5 888.5,974.6 889.0,975.6 889.5,975.0 891.5,975.0 892.0,973.5 894.5,973.5 895.0,975.0 899.5,975.0 900.0,975.6 900.5,976.8 901.0,976.0 902.0,978.5 902.5,979.4 903.5,980.4 904.0,982.8 905.5,983.2 908.0,983.4 913.5,983.5 917.5,983.1 918.5,982.7 919.5,982.1 920.5,981.0 922.0,978.8 923.0,978.0 933.0,978.0 933.5,978.3 934.0,975.8 935.5,978.0 936.5,979.1 937.0,982.5 938.5,983.1 941.5,983.5 978.5,983.7 979.0,982.2 981.5,982.2 982.0,983.7 1044.5,983.7 1045.0,980.7 1047.5,980.7 1048.0,983.7 1091.0,983.5 1094.0,983.3 1095.5,982.9 1096.5,982.3 1097.0,981.5 1097.5,979.9 1098.0,977.1 1099.0,969.4 1099.5,969.0 1107.5,969.0 1108.0,969.4 1109.0,977.0 1109.5,979.9 1110.0,981.5 1110.5,981.5 1111.0,979.9 1112.5,969.4 1113.0,969.0 1121.0,969.0 1121.5,969.4 1122.5,977.0 1123.0,979.9 1123.5,981.5 1124.0,982.3 1124.5,982.7 1125.5,983.0 1127.0,983.3 1128.0,983.0 1129.0,982.5 1130.0,981.4 1131.5,979.3 1132.0,979.0 1132.5,979.0 1142.0,979.0 1142.5,979.3 1144.5,982.1 1145.5,982.8 1146.5,983.2 1148.0,983.4 1151.0,983.2 1152.0,982.9 1153.0,982.1 1155.0,979.3 1155.5,979.0 1158.5,979.0 1159.0,976.8 1161.5,976.8 1162.0,979.0 1165.5,979.0 1166.0,979.3 1167.5,981.5 1168.0,980.6 1169.0,981.4 1170.5,981.8 1171.0,983.4 1174.5,983.5 1177.5,983.4 1179.0,983.1 1180.5,982.4 1182.0,981.4 1183.0,981.0 1192.5,981.0 1193.5,981.1 1196.0,982.7 1197.0,983.1 1200.5,983.5 1230.5,983.7 1231.0,981.5 1233.5,981.5 1234.0,983.7 1269.5,983.7 1270.0,980.7 1272.5,980.7 1273.0,983.7 1305.5,983.7 1306.0,982.2 1308.5,982.2 1309.0,983.7 1324.5,983.6 1328.0,983.2 1332.0,981.5 1341.5,981.5 1342.5,981.6 1346.0,983.2 1350.0,983.6 1431.5,983.7 1432.0,980.7 1434.5,980.7 1435.0,983.7 1497.5,983.7 1498.0,980.7 1500.5,980.7 1501.0,983.7 1526.5,983.5 1530.0,983.1 1534.5,981.6 1544.5,981.5 1546.0,981.7 1550.5,983.2 1554.5,983.6 1623.5,983.7 1624.0,980.7 1626.5,980.7 1627.0,983.7 1689.5,983.7 1690.0,982.2 1692.5,982.2 1693.0,983.7 1746.5,983.7 1747.0,981.5 1749.5,981.5 1750.0,983.7 1812.0,983.7 1812.0,992.7 1774.0,992.7 1773.5,995.7 1771.0,995.7 1770.5,992.7 1553.5,992.7 1544.0,992.4 1542.0,992.1 1540.0,991.4 1537.5,992.2 1535.0,992.5 1520.5,992.7 1348.5,992.7 1340.0,992.5 1338.5,992.3 1337.0,991.9 1335.0,992.4 1331.5,992.6 1294.0,992.7 1293.5,995.7 1291.0,995.7 1290.5,992.7 1273.0,992.7 1272.5,994.9 1270.0,994.9 1269.5,992.7 1213.0,992.7 1212.5,994.2 1210.0,994.2 1209.5,992.7 1204.0,992.7 1203.5,995.7 1201.0,995.7 1200.5,992.7 1191.0,992.5 1189.5,992.2 1188.0,991.7 1185.5,992.4 1180.0,992.6 1179.5,994.8 1177.0,994.8 1176.5,992.6 1171.0,992.6 1170.5,994.1 1168.0,994.1 1167.5,992.6 1162.5,992.3 1161.5,992.1 1160.5,991.5 1159.5,992.1 1157.5,992.4 1144.5,992.5 1139.0,992.3 1138.0,992.1 1137.0,991.5 1135.5,992.2 1132.0,992.4 1121.0,992.4 1118.5,992.2 1117.0,991.9 1114.5,992.2 1106.0,992.2 1103.5,991.9 1101.0,992.4 1095.0,992.6 1045.0,992.7 1044.5,995.7 1042.0,995.7 1041.5,992.7 1021.0,992.7 1020.5,995.7 1018.0,995.7 1017.5,992.7 967.0,992.7 966.5,995.7 964.0,995.7 963.5,992.7 937.0,992.6 936.5,994.0 934.0,994.0 933.5,992.5 931.0,992.2 930.5,995.1 929.0,994.5 927.5,993.3 926.5,993.9 925.0,994.4 924.5,992.3 922.0,992.4 921.5,994.7 919.0,994.7 918.5,992.5 904.5,992.5 898.5,992.3 896.0,991.8 895.0,991.2 894.5,990.6 893.5,991.6 892.0,992.1 891.5,994.4 889.0,994.6 888.5,992.4 871.5,992.5 858.5,992.3 855.0,991.8 854.0,991.3 853.0,990.5 852.0,991.3 851.0,991.7 848.0,992.1 831.0,992.2 820.5,991.9 818.5,991.7 817.0,991.2 816.0,990.5 815.0,989.2 814.0,990.4 812.5,991.3 811.0,991.6 808.5,991.8 794.0,991.9 786.0,991.7 783.0,991.3 782.0,990.9 781.0,990.1 779.0,991.1 776.0,991.4 765.0,991.3 762.0,990.9 760.0,990.3 759.5,991.4 758.5,990.3 757.5,988.4 757.0,988.1 756.5,986.6 750.0,986.6 749.5,986.4 748.5,983.8 747.5,987.4 747.0,988.3 746.0,989.0 737.5,989.1 737.0,988.9 736.0,987.9 735.5,987.0 734.0,982.6 733.5,982.2 732.0,985.9 731.0,987.8 730.0,989.1 729.0,990.0 727.0,990.7 726.5,993.8 726.0,993.8 724.0,993.9 723.5,990.9 721.0,990.9 720.5,993.9 718.0,993.9 717.5,990.9 714.5,990.8 713.0,990.4 711.5,990.8 709.5,990.9 699.5,990.9 695.0,990.5 692.5,989.6 690.0,987.7 689.5,987.8 681.0,987.7 680.5,987.3 680.0,986.5 679.5,985.1 679.0,986.4 678.5,987.3 678.0,987.6 670.0,987.6 669.5,987.5 669.0,987.1 668.5,987.2 667.5,988.4 666.5,988.8 658.0,988.8 657.0,988.3 656.5,987.7 655.5,985.8 649.5,985.8 646.5,988.7 645.0,989.5 643.5,989.9 643.0,992.7 631.5,992.7 631.0,989.8 628.5,989.8 628.0,986.8 622.5,986.8 622.0,983.8 619.5,983.8 619.0,977.9 616.5,977.9 616.0,980.9 608.0,980.9 607.5,963.1 605.0,963.1 604.5,972.0 602.0,972.0 601.5,980.9 596.0,980.9 595.5,977.9 593.0,977.9 592.5,957.2 590.0,957.2 589.5,954.2 587.5,954.2 587.0,983.8 584.5,983.8 584.0,989.8 581.5,989.8 581.0,992.7 576.0,992.7 575.5,989.8 573.0,989.8 572.5,992.7 570.0,992.7 569.5,989.8 566.0,989.8 565.5,987.1 562.0,987.1 561.5,989.3 559.0,989.3 558.5,987.1 558.0,987.2 556.0,988.4 554.0,988.9 544.0,989.0 541.0,988.7 539.5,988.3 538.0,987.6 537.0,986.6 536.0,984.5 534.5,986.1 534.0,986.3 532.0,986.3 531.5,987.8 529.0,987.8 528.5,986.3 525.5,986.3 524.5,985.6 524.0,984.9 523.0,986.5 522.0,987.5 520.5,988.2 518.0,988.7 514.0,988.9 502.5,988.8 501.0,988.6 499.5,988.1 498.5,987.4 498.0,986.9 497.0,987.8 496.0,988.3 493.0,988.8 488.5,989.0 475.0,988.9 474.5,991.1 473.0,991.0 472.0,990.9 471.5,988.6 469.0,988.2 468.5,990.2 467.0,989.4 466.0,988.2 465.5,984.8 465.0,984.0 460.0,984.0 459.0,986.0 458.0,987.1 457.0,987.6 455.0,988.1 450.5,988.4 438.0,988.3 435.0,987.9 434.0,987.6 433.0,986.8 432.5,986.7 423.5,986.6 422.0,985.9 421.0,985.0 420.5,984.3 419.5,981.7 419.0,980.9 418.0,980.9 417.5,983.1 415.0,983.1 414.5,980.9 411.0,980.9 410.5,980.4 409.5,982.7 408.5,984.2 407.5,985.0 406.5,985.3 397.5,985.4 396.5,985.2 395.5,984.6 395.0,984.0 394.5,983.1 394.0,981.4 393.5,983.2 392.5,984.8 391.0,985.7 388.5,986.1 379.5,986.1 377.0,985.5 376.0,985.0 375.0,984.2 374.0,982.5 373.5,980.9 372.5,983.1 372.0,983.8 371.0,984.6 370.0,985.0 368.5,985.3 361.0,985.3 360.5,987.5 359.0,987.3 358.0,987.0 357.5,984.4 356.5,983.1 355.5,984.4 354.0,985.4 352.0,985.9 348.5,986.2 331.5,986.2 327.5,986.0 325.0,985.6 322.5,985.8 308.5,985.7 305.5,985.4 303.5,985.0 301.0,985.2 292.0,985.2 283.0,984.8 282.5,986.8 280.0,986.8 279.5,983.8 277.0,983.8 276.5,986.8 268.5,986.8 268.0,983.8 262.5,983.8 262.0,980.9 259.5,980.9 259.0,972.0 256.5,972.0 256.0,954.2 251.0,954.2 250.5,969.0 248.0,969.0 247.5,975.0 245.0,975.0 244.5,977.9 236.0,977.9 235.5,975.0 233.0,975.0 232.5,963.1 230.5,963.1 230.0,957.2 227.0,957.2 226.5,969.0 224.0,969.0 223.5,975.0 221.0,975.0 220.5,977.9 218.0,977.9 217.5,980.9 207.0,980.9 206.5,976.9 205.0,977.1 204.5,980.1 202.0,980.2 201.5,977.2 194.5,977.1 187.0,976.7 186.5,979.7 184.0,979.5 183.5,976.4 176.0,975.8 160.0,972.8Z" fill="#00009A"/>
<g fill="#000"><rect x="159.90" y="25.90" width="1651.50" height="8.90"/><rect x="1802.80" y="25.90" width="8.60" height="1232.90"/>
<rect x="277.00" y="1245.65" width="8.80" height="25.25"/>
<rect x="394.00" y="1245.65" width="8.80" height="13.15"/>
<rect x="511.00" y="1245.65" width="8.80" height="25.25"/>
<rect x="628.10" y="1245.65" width="8.80" height="13.15"/>
<rect x="748.20" y="1245.65" width="8.80" height="25.25"/>
<rect x="865.60" y="1245.65" width="8.80" height="13.15"/>
<rect x="982.70" y="1245.65" width="8.80" height="25.25"/>
<rect x="1099.80" y="1245.65" width="8.80" height="13.15"/>
<rect x="1217.10" y="1245.65" width="8.80" height="25.25"/>
<rect x="1334.10" y="1245.65" width="8.80" height="13.15"/>
<rect x="1451.00" y="1245.65" width="8.80" height="25.25"/>
<rect x="1568.30" y="1245.65" width="8.80" height="13.15"/>
<rect x="1685.40" y="1245.65" width="8.80" height="25.25"/>
</g>
<g transform="translate(279.0,1336) scale(0.94,1)"><text class="tick" x="0" y="0">10</text></g>
<g transform="translate(515.3,1336) scale(0.94,1)"><text class="tick" x="0" y="0">20</text></g>
<g transform="translate(751.4,1336) scale(0.94,1)"><text class="tick" x="0" y="0">30</text></g>
<g transform="translate(985.5,1336) scale(0.94,1)"><text class="tick" x="0" y="0">40</text></g>
<g transform="translate(1219.7,1336) scale(0.94,1)"><text class="tick" x="0" y="0">50</text></g>
<g transform="translate(1453.3,1336) scale(0.94,1)"><text class="tick" x="0" y="0">60</text></g>
<g transform="translate(1687.7,1336) scale(0.94,1)"><text class="tick" x="0" y="0">70</text></g>
<g transform="translate(1266,315.9) scale(0.934,1)"><text class="lab" x="0" y="0">Cu-ZSM-5<tspan class="n" font-size="41" dx="3" dy="-24.3">T</tspan><tspan dx="-2.5" dy="24.3">@</tspan><tspan dx="3.5">SiO</tspan><tspan class="n" font-size="41" dx="-1.5" dy="15">2</tspan></text></g>
<g transform="translate(1266,635.7) scale(0.934,1)"><text class="lab" x="0" y="0">Cu-ZSM-5<tspan class="n" font-size="41" dx="3" dy="-24.3">T</tspan></text></g>
<g transform="translate(1267.5,954.5) scale(0.934,1)"><text class="lab" x="0" y="0">H-ZSM-5<tspan class="n" font-size="41" dx="3" dy="-24.3">T</tspan></text></g>
<g transform="translate(1203,1189.2) scale(0.943,1)"><text class="lab" x="0" y="0">ZSM-5 PDF#44-0003</text></g>
<g transform="translate(777,1443) scale(0.97,1)"><text class="ttl" x="0" y="0">2</text></g>
<g transform="translate(820.8,1443) scale(1.32,1)"><text class="ttl n" style="font-size:74px;font-family:'Liberation Serif','DejaVu Serif',serif" x="0" y="0">θ</text></g>
<g transform="translate(884,1443) scale(0.98,1)"><text class="ttl" x="0" y="0">(degree)</text></g>
<g transform="translate(81.0,908) rotate(-90) scale(0.938,1)"><text class="ttl" style="font-size:85.5px" x="0" y="0">Intensity (a.u.)</text></g>
</svg>
</body></html>
